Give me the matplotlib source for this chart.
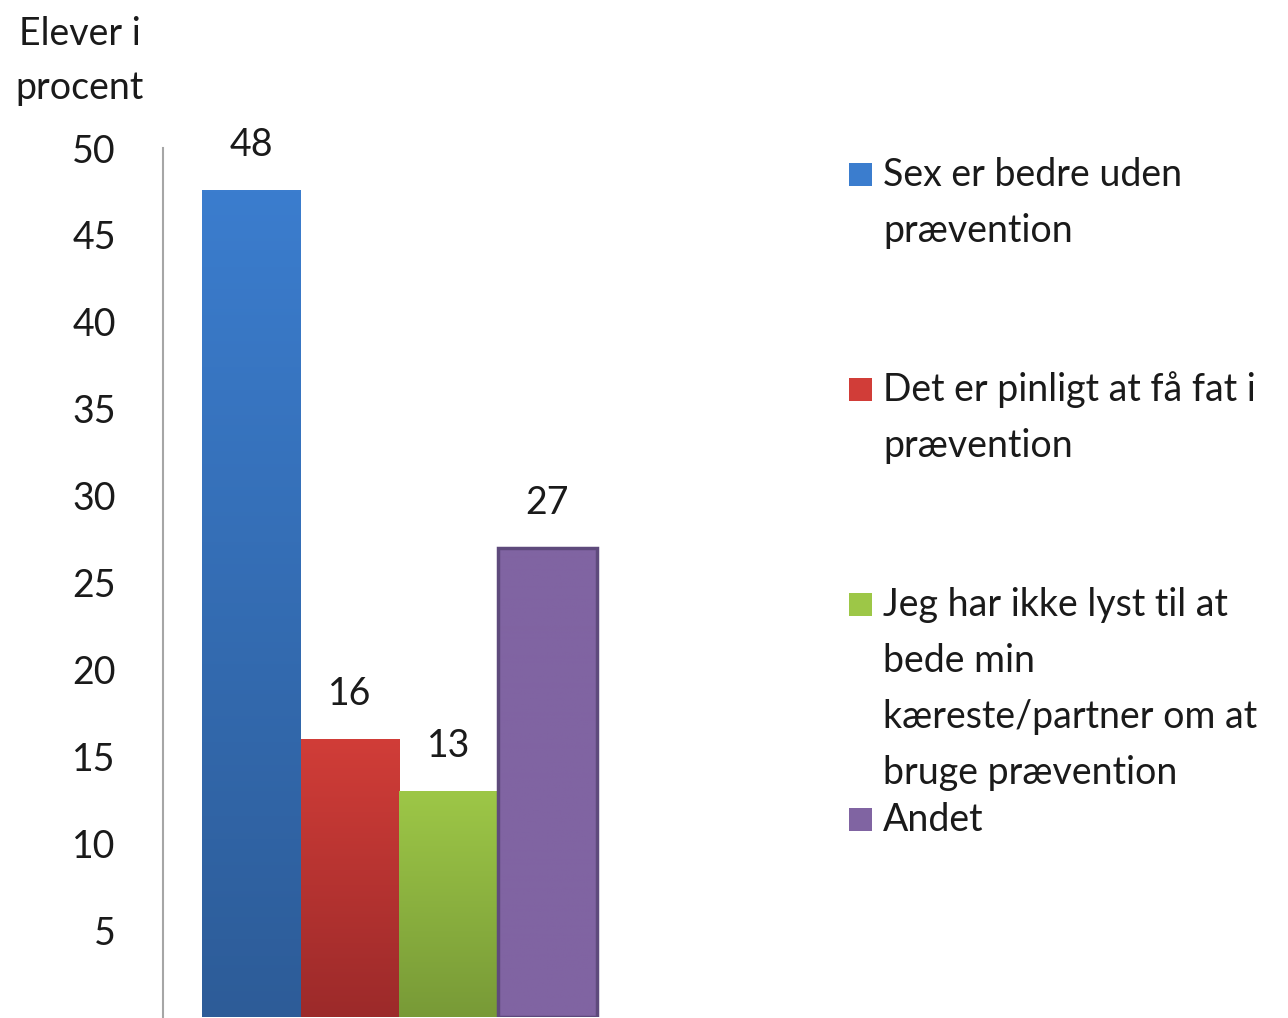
import matplotlib.pyplot as plt
import numpy as np
from matplotlib.patches import Rectangle
from matplotlib.colors import to_rgb

plt.rcParams['font.family'] = ['Lato', 'DejaVu Sans']

categories = ['Sex er bedre uden\nprævention',
              'Det er pinligt at få fat i\nprævention',
              'Jeg har ikke lyst til at\nbede min\nkæreste/partner om at\nbruge prævention',
              'Andet']
values = [47.6, 16, 13, 27]
yticks = [5, 10, 15, 20, 25, 30, 35, 40, 45, 50]
# top colour, bottom colour of each bar
tops = ['#3B7DCE', '#D13D38', '#9DC747', '#8064A2']
bottoms = ['#2D5C98', '#9C2A2A', '#789A37', '#8064A2']
edges = [None, None, None, '#5E4A7C']

FS = 27
TXT = '#1a1a1a'

fig = plt.figure(figsize=(12.88, 10.18), dpi=100)
ax = fig.add_axes([0.1266, 0.001, 0.3703, 0.8536])

for i, v in enumerate(values):
    rect = Rectangle((i - 0.5, 0), 1, v, facecolor='none',
                     edgecolor=edges[i] if edges[i] else 'none', lw=2.5, zorder=3)
    ax.add_patch(rect)
    grad = np.linspace(0, 1, 256).reshape(-1, 1, 1)
    img = np.array(to_rgb(tops[i])) * (1 - grad) + np.array(to_rgb(bottoms[i])) * grad
    im = ax.imshow(img, extent=(i - 0.5, i + 0.5, 0, v), aspect='auto',
                   origin='upper', zorder=2)
    im.set_clip_path(rect)
    ax.text(i, v + 2.6, f'{v:.0f}', ha='center', va='center', fontsize=FS, color=TXT)

ax.set_xlim(-0.896, 3.94)
ax.set_ylim(0, 50)
ax.set_yticks(yticks)
ax.set_yticklabels([str(t) for t in yticks], fontsize=FS, color=TXT)
ax.tick_params(axis='y', length=0, pad=34)
ax.set_xticks([])
for s in ['top', 'right', 'bottom']:
    ax.spines[s].set_visible(False)
ax.spines['left'].set_color('#A6A6A6')
ax.spines['left'].set_linewidth(1.5)

fig.text(80 / 1288, 1 - 34 / 1018, 'Elever i', ha='center', va='center',
         fontsize=FS, color=TXT)
fig.text(80 / 1288, 1 - 88 / 1018, 'procent', ha='center', va='center',
         fontsize=FS, color=TXT)

# legend drawn by hand
leg_y = [175, 390, 605, 820]
line_h = 56
for i, lab in enumerate(categories):
    y = 1 - leg_y[i] / 1018
    fig.patches.append(Rectangle((849 / 1288, y - 11 / 1018), 23 / 1288, 23 / 1018,
                                 transform=fig.transFigure, facecolor=tops[i],
                                 edgecolor='none'))
    for k, line in enumerate(lab.split('\n')):
        fig.text(883 / 1288, 1 - (leg_y[i] + k * line_h) / 1018, line,
                 ha='left', va='center', fontsize=FS, color=TXT)

fig.savefig('out.png', dpi=100)
